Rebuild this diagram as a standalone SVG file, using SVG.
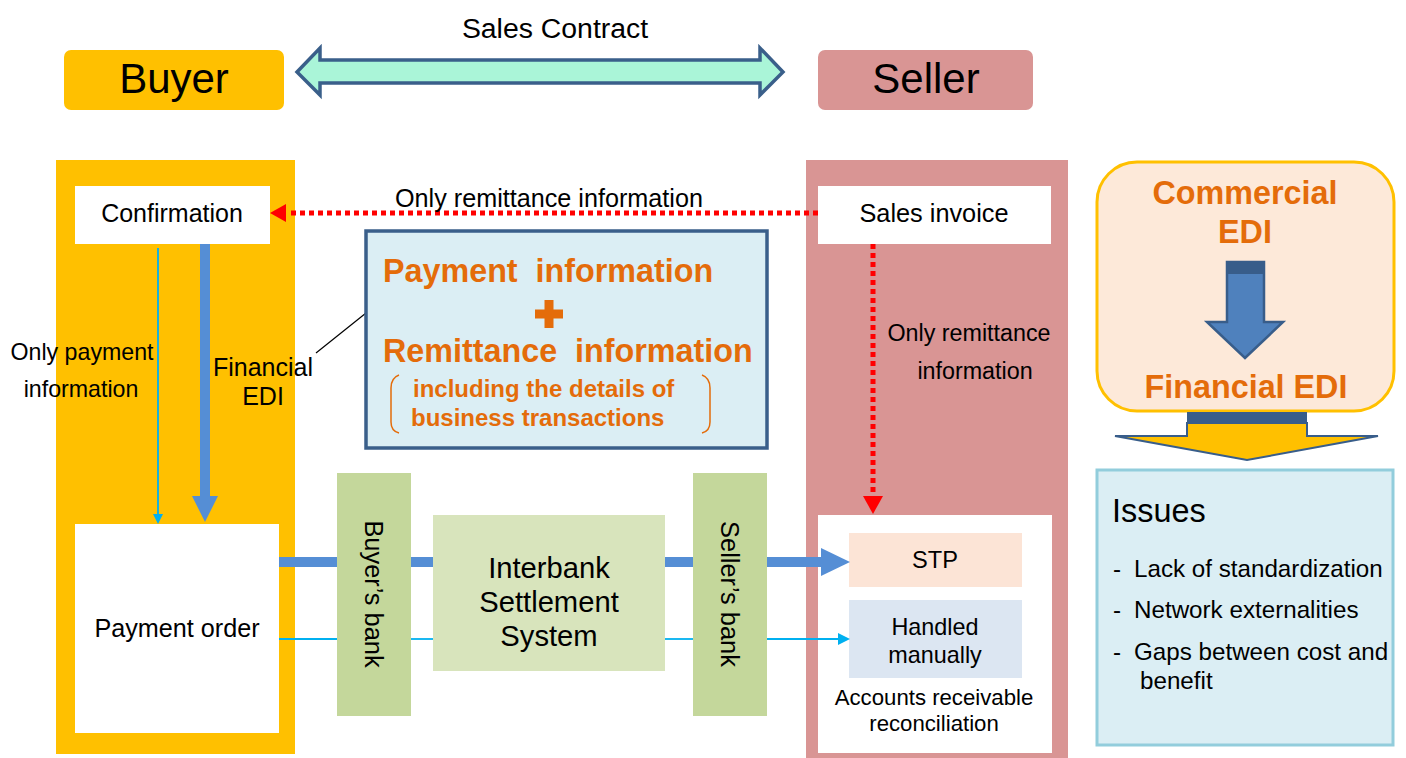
<svg xmlns="http://www.w3.org/2000/svg" width="1406" height="758" viewBox="0 0 1406 758">
<defs>
<style>
text{font-family:"Liberation Sans",Arial,sans-serif;fill:#000;white-space:pre}
.c{text-anchor:middle}
.o{fill:#E46C0A;font-weight:bold}
.red{stroke:#FF0000;stroke-width:5;stroke-dasharray:5 4;fill:none}
</style>
</defs>
<rect width="1406" height="758" fill="#fff"/>
<g id="sales-contract">
<text x="555" y="38" class="c" font-size="28.4">Sales Contract</text>
<path d="M297,72 L320,48 L320,60 L760,60 L760,48 L783,72 L760,95 L760,83 L320,83 L320,95 Z" fill="#AAF5D8" stroke="#3A5F8A" stroke-width="3.5" stroke-linejoin="miter"/>
</g>
<g id="buyer">
<rect x="64" y="50" width="220" height="60" rx="7" fill="#FFC000"/>
<text x="174" y="93" class="c" font-size="42">Buyer</text>
</g>
<g id="seller">
<rect x="818" y="50" width="215" height="60" rx="7" fill="#D99594"/>
<text x="926" y="93" class="c" font-size="42">Seller</text>
</g>
<g id="buyer-column"><rect x="56" y="160" width="239" height="594" fill="#FFC000"/></g>
<g id="seller-column"><rect x="806" y="160" width="262" height="598" fill="#D99594"/></g>
<g id="confirmation">
<rect x="75" y="186" width="195" height="58" fill="#fff"/>
<text x="172" y="222" class="c" font-size="25">Confirmation</text>
</g>
<g id="payment-order">
<rect x="75" y="524" width="204" height="209" fill="#fff"/>
<text x="177" y="637" class="c" font-size="25.2">Payment order</text>
</g>
<g id="sales-invoice">
<rect x="818" y="186" width="233" height="58" fill="#fff"/>
<text x="934" y="222" class="c" font-size="25.3">Sales invoice</text>
</g>
<g id="reconciliation">
<rect x="818" y="515" width="234" height="238" fill="#fff"/>
<text x="934" y="705" class="c" font-size="22.2">Accounts receivable</text>
<text x="934" y="731" class="c" font-size="22.2">reconciliation</text>
</g>
<g id="stp">
<rect x="849" y="533" width="173" height="54" fill="#FCE4D6"/>
<text x="935" y="568" class="c" font-size="23.6">STP</text>
</g>
<g id="handled-manually">
<rect x="849" y="600" width="173" height="78" fill="#DCE6F2"/>
<text x="935" y="635" class="c" font-size="23.4">Handled</text>
<text x="935" y="663" class="c" font-size="23.4">manually</text>
</g>
<g id="buyers-bank">
<rect x="337" y="473" width="74" height="243" fill="#C4D79B"/>
<text transform="translate(365,594) rotate(90)" class="c" font-size="25.4">Buyer’s bank</text>
</g>
<g id="interbank">
<rect x="433" y="515" width="232" height="156" fill="#D8E4BC"/>
<text x="549" y="578" class="c" font-size="29.2">Interbank</text>
<text x="549" y="612" class="c" font-size="29.2">Settlement</text>
<text x="549" y="646" class="c" font-size="29.2">System</text>
</g>
<g id="sellers-bank">
<rect x="693" y="473" width="74" height="243" fill="#C4D79B"/>
<text transform="translate(721,594) rotate(90)" class="c" font-size="25.4">Seller’s bank</text>
</g>
<g id="connectors">
<line x1="158" y1="248" x2="158" y2="516" stroke="#00B0F0" stroke-width="1.8"/>
<path d="M153,514 L158,524 L163,514 Z" fill="#00B0F0"/>
<rect x="200" y="244" width="10" height="254" fill="#558ED5"/>
<path d="M192,496 L218,496 L205,522 Z" fill="#558ED5"/>
<rect x="279" y="557" width="58" height="10" fill="#558ED5"/>
<rect x="411" y="557" width="22" height="10" fill="#558ED5"/>
<rect x="665" y="557" width="28" height="10" fill="#558ED5"/>
<rect x="767" y="557" width="56" height="10" fill="#558ED5"/>
<path d="M821,548 L850,562 L821,576 Z" fill="#558ED5"/>
<line x1="279" y1="639" x2="337" y2="639" stroke="#00B0F0" stroke-width="1.8"/>
<line x1="411" y1="639" x2="433" y2="639" stroke="#00B0F0" stroke-width="1.8"/>
<line x1="665" y1="639" x2="693" y2="639" stroke="#00B0F0" stroke-width="1.8"/>
<line x1="767" y1="639" x2="840" y2="639" stroke="#00B0F0" stroke-width="1.8"/>
<path d="M838,633 L850,639 L838,645 Z" fill="#00B0F0"/>
<line x1="818" y1="213" x2="288" y2="213" class="red"/>
<path d="M286,204 L270,213 L286,222 Z" fill="#FF0000"/>
<line x1="873" y1="244" x2="873" y2="497" class="red"/>
<path d="M863,496 L883,496 L873,514 Z" fill="#FF0000"/>
<line x1="316" y1="353" x2="366" y2="313" stroke="#000" stroke-width="1.3"/>
<text x="549" y="207" class="c" font-size="25.2">Only remittance information</text>
<text x="82" y="360" class="c" font-size="23.2">Only payment</text>
<text x="81" y="397" class="c" font-size="23.2">information</text>
<text x="263" y="376" class="c" font-size="25">Financial</text>
<text x="263" y="405" class="c" font-size="25">EDI</text>
<text x="969" y="341" class="c" font-size="23.3">Only remittance</text>
<text x="975" y="379" class="c" font-size="23.3">information</text>
</g>
<g id="callout">
<rect x="366" y="231" width="401" height="217" fill="#DBEEF4" stroke="#3A5F8A" stroke-width="3.5"/>
<text x="383" y="282" class="o" font-size="32.3">Payment  information</text>
<path d="M544.5,300 h9 v9.5 h9.5 v9 h-9.5 v9.5 h-9 v-9.5 h-9.5 v-9 h9.5 Z" fill="#E46C0A"/>
<text x="383" y="362" class="o" font-size="32.3">Remittance  information</text>
<text x="413" y="397" class="o" font-size="24">including the details of</text>
<text x="411" y="426" class="o" font-size="24">business transactions</text>
<path d="M399,375 Q391,378 391,388 L391,422 Q391,431 399,433" fill="none" stroke="#E46C0A" stroke-width="1.5"/>
<path d="M702,375 Q710,378 710,388 L710,422 Q710,431 702,433" fill="none" stroke="#E46C0A" stroke-width="1.5"/>
</g>
<g id="edi-box">
<rect x="1097" y="162" width="297" height="249" rx="40" fill="#FDE9D9" stroke="#FFC000" stroke-width="3"/>
<text x="1245" y="204" class="c o" font-size="32.3">Commercial</text>
<text x="1245" y="243" class="c o" font-size="32.3">EDI</text>
<path d="M1227,262 L1264,262 L1264,322 L1283,322 L1245,358 L1207,322 L1227,322 Z" fill="#4F81BD" stroke="#385D8A" stroke-width="2.5"/>
<rect x="1227" y="262" width="37" height="12" fill="#385D8A"/>
<text x="1246" y="398" class="c o" font-size="32.3">Financial EDI</text>
</g>
<g id="down-arrow">
<path d="M1187,423 L1307,423 L1307,436 L1378,436 L1247,460 L1115,436 L1187,436 Z" fill="#FFC000" stroke="#385D8A" stroke-width="2"/>
<rect x="1187" y="412" width="120" height="12" fill="#385D8A"/>
</g>
<g id="issues">
<rect x="1097" y="470" width="296" height="275" fill="#DBEEF4" stroke="#92CDDC" stroke-width="3"/>
<text x="1112" y="522" font-size="32.4">Issues</text>
<text x="1113" y="577" font-size="24.2">-</text>
<text x="1134" y="577" font-size="24.2">Lack of standardization</text>
<text x="1113" y="618" font-size="24.2">-</text>
<text x="1134" y="618" font-size="24.2">Network externalities</text>
<text x="1113" y="660" font-size="24.2">-</text>
<text x="1134" y="660" font-size="24.2">Gaps between cost and</text>
<text x="1140" y="689" font-size="24.2">benefit</text>
</g>
</svg>
